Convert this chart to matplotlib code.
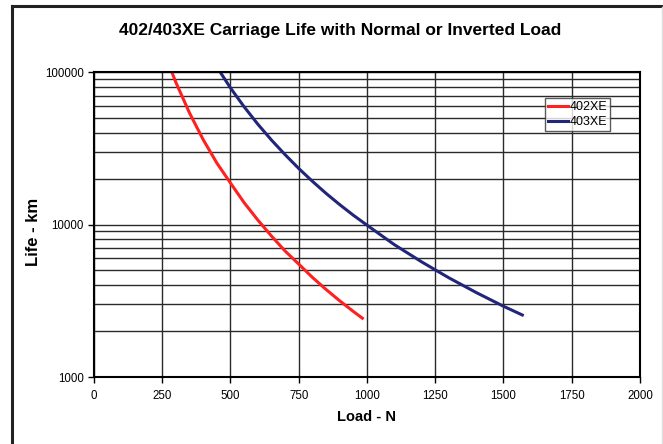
#=======================#
# Libraries importation #
#=======================#

import matplotlib
matplotlib.use("Agg")
import matplotlib.pyplot as plt
from matplotlib.lines import Line2D
from matplotlib.ticker import LogLocator, NullFormatter, FixedLocator

#======#
# Data #
#======#

load_402 = [285, 300, 350, 400, 450, 500, 550, 600, 650, 700, 750, 800, 850, 900, 950, 983]
life_402 = [100000, 85400, 53800, 36000, 25300, 18700, 13900, 10700, 8400, 6700, 5500, 4500, 3750, 3160, 2690, 2430]

load_403 = [462, 500, 550, 600, 650, 700, 750, 800, 850, 900, 950, 1000, 1100, 1200, 1300, 1400, 1500, 1569]
life_403 = [100000, 78600, 59100, 45500, 35800, 28700, 23300, 19200, 16000, 13500, 11500, 9900, 7380, 5690, 4470, 3580, 2910, 2550]

x_ticks = [0, 250, 500, 750, 1000, 1250, 1500, 1750, 2000]

RED = "#ff2020"
NAVY = "#22267a"
GRID = "#2a2a2a"

plt.rcParams["font.family"] = ["Liberation Sans", "DejaVu Sans"]

#=======#
# Chart #
#=======#

fig = plt.figure(figsize=(6.63, 4.44), dpi=100)
ax = fig.add_axes([94 / 663, 1 - 377 / 444, 546 / 663, 305 / 444])

ax.plot(load_402, life_402, color=RED, linewidth=2.2, label="402XE")
ax.plot(load_403, life_403, color=NAVY, linewidth=2.2, label="403XE")

ax.set_yscale("log")
ax.set_xlim(0, 2000)
ax.set_ylim(1000, 100000)
ax.xaxis.set_major_locator(FixedLocator(x_ticks))
ax.yaxis.set_major_locator(FixedLocator([1000, 10000, 100000]))
ax.yaxis.set_minor_locator(LogLocator(base=10, subs=range(2, 10)))
ax.yaxis.set_minor_formatter(NullFormatter())
ax.set_yticklabels(["1000", "10000", "100000"])

ax.grid(True, which="both", axis="y", color=GRID, linewidth=1)
ax.grid(True, which="major", axis="x", color=GRID, linewidth=1)
ax.tick_params(axis="both", which="major", labelsize=8.3, length=4, width=1, color="black")
ax.tick_params(axis="x", which="major", pad=5)
ax.tick_params(axis="y", which="minor", length=0)
for side in ["top", "right", "bottom", "left"]:
    ax.spines[side].set_linewidth(1.5)
    ax.spines[side].set_color("black")

ax.set_xlabel("Load - N", fontsize=10.5, fontweight="bold", va="center")
ax.xaxis.set_label_coords(0.5, (377 - 417) / 305)
ax.set_ylabel("Life - km", fontsize=12, fontweight="bold", va="center")
ax.yaxis.set_label_coords((33 - 94) / 546, (377 - 232) / 305)
fig.text(340 / 663, 1 - 31 / 444, "402/403XE Carriage Life with Normal or Inverted Load",
         ha="center", va="center", fontsize=12.5, fontweight="bold")

leg = ax.legend(loc="upper left", bbox_to_anchor=((545 - 94) / 546, 1 - (98 - 72) / 305),
                fontsize=9, frameon=True, fancybox=False, handlelength=1.6,
                handletextpad=0.1, borderpad=0.25, labelspacing=0.25, borderaxespad=0)
leg.get_frame().set_edgecolor("#333333")
leg.get_frame().set_linewidth(1)

# outer frame (left and top edges)
fig.add_artist(Line2D([12 / 663, 12 / 663], [0, 1 - 6 / 444], color="#222222", linewidth=2.2, transform=fig.transFigure))
fig.add_artist(Line2D([12 / 663, 1], [1 - 6 / 444, 1 - 6 / 444], color="#222222", linewidth=2.2, transform=fig.transFigure))
fig.add_artist(Line2D([661.5 / 663, 661.5 / 663], [0, 1 - 7 / 444], color="#dddddd", linewidth=1, transform=fig.transFigure))

fig.savefig("out.png", dpi=100)
